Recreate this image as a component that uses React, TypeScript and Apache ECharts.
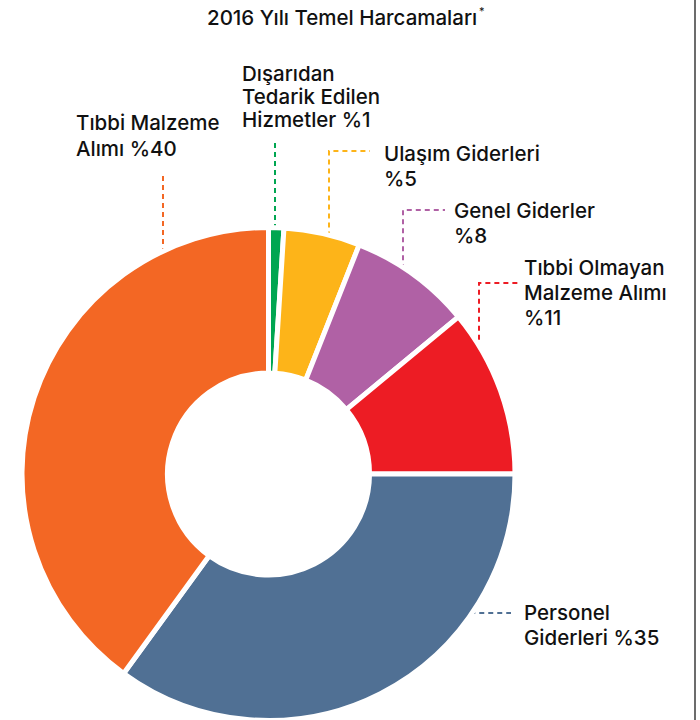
import { useEffect, useRef } from "react";
import * as echarts from "echarts";

// ---- data ----
const titleText = "2016 Yılı Temel Harcamaları";
const titleNote = "*";
const categories = [
  "Dışarıdan Tedarik Edilen Hizmetler",
  "Ulaşım Giderleri",
  "Genel Giderler",
  "Tıbbi Olmayan Malzeme Alımı",
  "Personel Giderleri",
  "Tıbbi Malzeme Alımı",
];
const values = [1, 5, 8, 11, 35, 40];
const labelTemplates = [
  "Dışarıdan\nTedarik Edilen\nHizmetler %{v}",
  "Ulaşım Giderleri\n%{v}",
  "Genel Giderler\n%{v}",
  "Tıbbi Olmayan\nMalzeme Alımı\n%{v}",
  "Personel\nGiderleri %{v}",
  "Tıbbi Malzeme\nAlımı %{v}",
];

// ---- styles / layout ----
const colors = ["#00A651", "#FDB419", "#B061A5", "#ED1C24", "#507094", "#F36724"];
const CX = 268.5;
const CY = 474;
const R_OUT = 246.5;
const R_IN = 101;
const BORDER = 5;
const R_VIS = R_OUT - BORDER / 2 + 1;
const FONT = "Inter, 'Liberation Sans', sans-serif";
const FONT_SIZE = 20.5;
const CAP_OFFSET = 5;

type LabelLayout = { tx: number; capTop: number; lh: number; kind: "v" | "h"; lx: number; ly: number; hx?: number };
const labelLayouts: LabelLayout[] = [
  { tx: 242, capTop: 68, lh: 23, kind: "v", lx: 275, ly: 141 },
  { tx: 384, capTop: 148, lh: 25, kind: "v", lx: 329, ly: 151, hx: 370 },
  { tx: 454, capTop: 205, lh: 25, kind: "v", lx: 403, ly: 210, hx: 445 },
  { tx: 524, capTop: 262, lh: 25, kind: "v", lx: 479, ly: 283, hx: 521 },
  { tx: 524, capTop: 607, lh: 25, kind: "h", lx: 0, ly: 613, hx: 511 },
  { tx: 76, capTop: 117, lh: 26, kind: "v", lx: 163, ly: 172 },
];

const edgeY = (x: number) => CY - Math.sqrt(R_VIS * R_VIS - (x - CX) * (x - CX));
const edgeX = (y: number) => CX + Math.sqrt(R_VIS * R_VIS - (y - CY) * (y - CY));

export default function App() {
  const ref = useRef<HTMLDivElement>(null);
  useEffect(() => {
    document.body.style.margin = "0";
    if (!ref.current) return;
    const chart = echarts.init(ref.current, null, { renderer: "svg" });
    const data = categories.map((name, i) => ({
      name,
      value: values[i],
      itemStyle: { color: colors[i] },
      label: { lineHeight: labelLayouts[i].lh },
      labelLine: { lineStyle: { color: colors[i] } },
    }));
    chart.setOption({
      animation: false,
      backgroundColor: "#ffffff",
      title: {
        text: titleText,
        left: 207,
        top: 3,
        padding: 0,
        textStyle: { fontFamily: FONT, fontSize: 20.5, fontWeight: 500, color: "#111", lineHeight: 28 },
      },
      graphic: [
        {
          type: "text",
          left: 479,
          top: 5,
          style: { text: titleNote, fontFamily: FONT, fontSize: 11, fill: "#111" },
        },
        {
          type: "line",
          shape: { x1: 695, y1: 0, x2: 695, y2: 720 },
          style: { stroke: "#6c6c6c", lineWidth: 2 },
        },
      ],
      series: [
        {
          type: "pie",
          center: [CX, CY],
          radius: [R_IN, R_OUT],
          startAngle: 90,
          clockwise: true,
          avoidLabelOverlap: false,
          itemStyle: { borderColor: "#ffffff", borderWidth: BORDER },
          emphasis: { disabled: true },
          label: {
            show: true,
            position: "outside",
            fontFamily: FONT,
            fontSize: FONT_SIZE,
            fontWeight: 500,
            color: "#111",
            align: "left",
            formatter: (p: any) => labelTemplates[p.dataIndex].replace("{v}", String(p.value)),
          },
          labelLine: {
            show: true,
            length: 10,
            length2: 10,
            lineStyle: { width: 2, type: [5, 4] },
          },
          labelLayout: (params: any) => {
            const L = labelLayouts[params.dataIndex];
            let pts: number[][];
            if (L.kind === "v") {
              const hx = L.hx ?? L.lx;
              pts = [
                [L.lx, edgeY(L.lx)],
                [L.lx, L.ly],
                [hx, L.ly],
              ];
            } else {
              const hx = L.hx ?? 0;
              pts = [
                [edgeX(L.ly), L.ly],
                [hx, L.ly],
                [hx, L.ly],
              ];
            }
            return {
              x: L.tx,
              y: L.capTop - CAP_OFFSET - (L.lh - FONT_SIZE) / 2,
              align: "left",
              verticalAlign: "top",
              labelLinePoints: pts,
            };
          },
          data,
        },
      ],
    });
    return () => chart.dispose();
  }, []);
  return <div ref={ref} style={{ width: 700, height: 720 }} />;
}
